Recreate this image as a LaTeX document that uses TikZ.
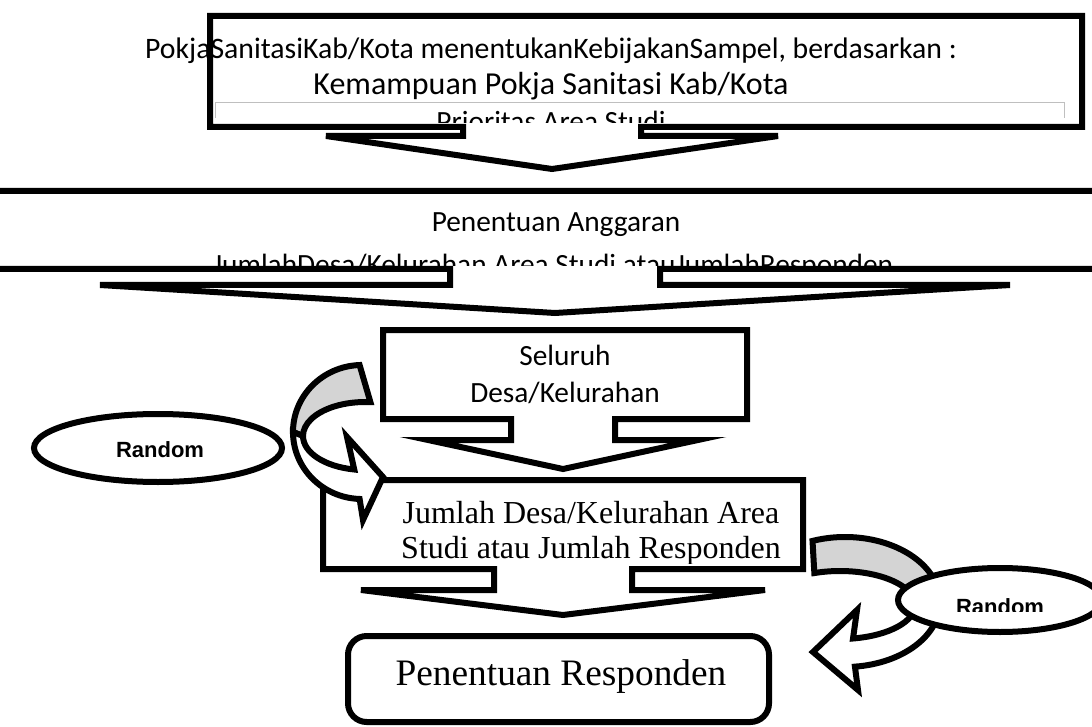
\documentclass[tikz,border=0pt]{standalone}
\usepackage{fontspec}
\setmainfont{Liberation Serif}
\newfontfamily\calfont{Carlito}
\newfontfamily\arialfont{Liberation Sans}
\usetikzlibrary{calc}

% kotak dengan panah ke bawah: kiri, atas, kanan, bawah, tengah, setengah batang, setengah sayap, y sayap, y ujung
\newcommand{\downcallout}[9]{%
  \draw[callout] (#1,#2) -- (#3,#2) -- (#3,#4) -- (#5+#6,#4) -- (#5+#6,#8)
    -- (#5+#7,#8) -- (#5,#9) -- (#5-#7,#8) -- (#5-#6,#8) -- (#5-#6,#4)
    -- (#1,#4) -- cycle;}

\begin{document}
\begin{tikzpicture}[x=0.75pt,y=-0.75pt,
    callout/.style={draw,fill=white,line width=4.5pt},
    band/.style={draw,fill=black!17,line width=4.5pt},
    front/.style={draw,fill=white,line width=4.5pt},
    thin line/.style={draw=black!25,line width=0.6pt},
    cal text/.style={anchor=base,inner sep=0pt,font=\calfont\fontsize{22}{26}\selectfont},
    times text/.style={anchor=base,inner sep=0pt,font=\fontsize{24}{28}\selectfont},
    rand text/.style={inner sep=0pt,font=\arialfont\bfseries\fontsize{16.5}{19}\selectfont}]

\useasboundingbox (0,0) rectangle (1092,727);
\clip (0,0) rectangle (1092,727);

% kotak kebijakan
\downcallout{210}{16}{1082}{127}{552}{89}{226}{136}{169}
\draw[thin line] (215,118) -- (215,102) -- (1064,102) -- (1064,118);
\node[cal text,font=\calfont\fontsize{22.3}{26}\selectfont] (kebijakan) at (551,59)
  {PokjaSanitasiKab/Kota menentukanKebijakanSampel, berdasarkan :};
\node[cal text,font=\calfont\fontsize{24}{28}\selectfont] (kemampuan) at (551,95)
  {Kemampuan Pokja Sanitasi Kab/Kota};
\begin{scope}
  \clip (213,104) rectangle (1079,123);
  \node[cal text] (prioritas) at (551,132) {Prioritas Area Studi};
\end{scope}

% kotak anggaran
\downcallout{-20}{191}{1110}{269}{555}{105}{455}{285}{313}
\node[cal text] (anggaran) at (556,232) {Penentuan Anggaran};
\begin{scope}
  \clip (0,194) rectangle (1092,266);
  \node[cal text] (jumlah) at (553,275) {JumlahDesa/Kelurahan Area Studi atauJumlahResponden};
\end{scope}

% kotak seluruh desa
\downcallout{383}{330}{747}{419}{563}{52}{135}{440}{469}
\node[cal text] (seluruh) at (565,365) {Seluruh};
\node[cal text] (desa) at (565,402) {Desa/Kelurahan};

% kotak area studi
\downcallout{323}{480}{803}{569}{563}{69}{202}{590}{615}
\begin{scope}
  \clip (326,483) rectangle (800,563);
  \node[times text] (area) at (591,523) {Jumlah Desa/Kelurahan Area};
  \node[times text] (studi) at (591,558) {Studi atau Jumlah Responden};
\end{scope}

% kotak responden
\draw[line width=4.5pt,rounded corners=14] (348,636) rectangle (769,722);
\node[times text,font=\fontsize{28}{32}\selectfont] (responden) at (561,685) {Penentuan Responden};

% panah lengkung kiri
\filldraw[band] ($(362,432)+(268:69 and 67)$) arc[start angle=268,end angle=180,x radius=69,y radius=67]
  -- ($(365,436)+(180:62 and 34)$) arc[start angle=180,end angle=275,x radius=62,y radius=34] -- cycle;
\filldraw[front] ($(362,432)+(180:69 and 67)$) arc[start angle=180,end angle=92,x radius=69,y radius=67]
  -- (363,520) -- (383,477) -- (347,437)
  -- ($(365,436)+(100:62 and 34)$) arc[start angle=100,end angle=180,x radius=62,y radius=34] -- cycle;
\draw[line width=4.5pt,fill=white] (158,448) ellipse [x radius=124,y radius=34];
\node[rand text] (random kiri) at (160,450) {Random};

% panah lengkung kanan
\filldraw[band] ($(845,602)+(250:95 and 65)$) arc[start angle=250,end angle=360,x radius=95,y radius=65]
  -- ($(840,605)+(0:75 and 34)$) arc[start angle=360,end angle=250,x radius=75,y radius=34] -- cycle;
\filldraw[front] ($(845,602)+(0:95 and 65)$) arc[start angle=0,end angle=84,x radius=95,y radius=65]
  -- (858,690) -- (813,652) -- (857,610)
  -- ($(840,605)+(80:75 and 34)$) arc[start angle=80,end angle=0,x radius=75,y radius=34] -- cycle;
\draw[line width=4.5pt,fill=white] (1000,600) ellipse [x radius=102,y radius=32];
\begin{scope}
  \clip (900,570) rectangle (1092,611);
  \node[rand text,anchor=base] (random kanan) at (1000,614) {Random};
\end{scope}
\end{tikzpicture}
\end{document}
